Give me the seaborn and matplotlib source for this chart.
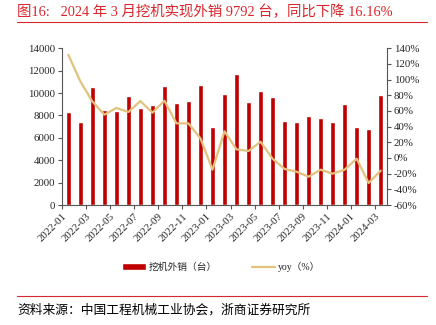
import numpy as np
import pandas as pd
import matplotlib
matplotlib.use("Agg")
import matplotlib.pyplot as plt
import seaborn as sns
from matplotlib.lines import Line2D
from matplotlib.patches import Patch

months = ["2022-01", "2022-02", "2022-03", "2022-04", "2022-05", "2022-06", "2022-07",
          "2022-08", "2022-09", "2022-10", "2022-11", "2022-12", "2023-01", "2023-02",
          "2023-03", "2023-04", "2023-05", "2023-06", "2023-07", "2023-08", "2023-09",
          "2023-10", "2023-11", "2023-12", "2024-01", "2024-02", "2024-03"]
exports = [8280, 7420, 10520, 8490, 8430, 9710, 8670, 8970, 10630, 9150, 9270, 10720,
           6970, 9950, 11680, 9230, 10190, 9650, 7510, 7420, 7980, 7770, 7420, 9050,
           6940, 6760, 9792]
yoy = [131.8, 97.8, 72.2, 55.3, 63.8, 58.7, 72.7, 57.8, 73.1, 44.2, 44.2, 25.0,
       -14.9, 34.0, 11.0, 8.9, 20.8, -0.9, -14.0, -17.5, -23.9, -14.9, -20.0, -14.9,
       -0.9, -31.9, -16.16]
left_ticks = [0, 2000, 4000, 6000, 8000, 10000, 12000, 14000]
right_ticks = [-60, -40, -20, 0, 20, 40, 60, 80, 100, 120, 140]

bar_label = "挖机外销（台）"
line_label = "yoy（%）"
title = "图16:   2024 年 3 月挖机实现外销 9792 台，同比下降 16.16%"
source = "资料来源：中国工程机械工业协会，浙商证券研究所"

sns.set_style("white")
plt.rcParams['font.family'] = ['Liberation Serif', 'Noto Sans CJK SC']
plt.rcParams['axes.unicode_minus'] = False

bar_color = "#C00000"
line_color = "#E2C27D"
red = "#D9262C"

df = pd.DataFrame({"month": months, "exports": exports, "yoy": yoy})
df["idx"] = np.arange(len(df))

fig = plt.figure(figsize=(4.36, 3.25), dpi=100)
ax = fig.add_axes([0.1429, 0.3692, 0.744, 0.4822])
sns.barplot(data=df, x="month", y="exports", color=bar_color, saturation=1,
            width=0.44, ax=ax, order=months)
ax.set_ylim(0, 14000)
ax.set_yticks(left_ticks)
ax.set_yticklabels([str(t) for t in left_ticks], fontsize=7.8)
ax.set_xlim(-0.5, len(months) - 0.5)
pos = np.arange(0, len(months), 2)
ax.set_xticks(pos - 0.5)
ax.set_xticklabels([months[i] for i in pos], rotation=45, ha="right",
                   rotation_mode="anchor", fontsize=7.8)
ax.set_xlabel("")
ax.set_ylabel("")

ax2 = ax.twinx()
sns.lineplot(data=df, x="idx", y="yoy", color=line_color, linewidth=1.6, ax=ax2)
ax2.set_ylim(-60, 140)
ax2.set_yticks(right_ticks)
ax2.set_yticklabels([f"{t}%" for t in right_ticks], fontsize=7.8)
ax2.set_xlim(-0.5, len(months) - 0.5)
ax2.set_ylabel("")
ax2.set_xlabel("")

for a in (ax, ax2):
    for s in a.spines.values():
        s.set_visible(False)
    a.tick_params(length=3, width=0.8, color="#555555", pad=2)
ax.spines["left"].set_visible(True)
ax.spines["bottom"].set_visible(True)
ax2.spines["right"].set_visible(True)
for s in (ax.spines["left"], ax.spines["bottom"], ax2.spines["right"]):
    s.set_color("#555555")
    s.set_linewidth(0.8)
ax.tick_params(axis="x", bottom=True, length=3)
ax.tick_params(axis="y", left=True)
ax2.tick_params(axis="y", right=True)

handles = [Patch(facecolor=bar_color, label=bar_label),
           Line2D([0], [0], color=line_color, lw=1.6, label=line_label)]
fig.legend(handles=handles, loc="center", bbox_to_anchor=(0.508, 1 - 267 / 325), ncol=2,
           frameon=False, fontsize=7, handlelength=2.4, handleheight=0.7,
           columnspacing=3.6, handletextpad=0.3)

fig.text(17 / 436, 1 - 12 / 325, title, color=red, fontsize=10.4, va="center", ha="left")
fig.add_artist(Line2D([17 / 436, 427 / 436], [1 - 22.3 / 325] * 2, color=red, lw=0.8))
fig.add_artist(Line2D([17 / 436, 427 / 436], [1 - 296 / 325] * 2, color=red, lw=0.8))
fig.text(17 / 436, 1 - 310 / 325, source, color="black", fontsize=9.2, va="center", ha="left")

fig.savefig("out.png", dpi=100)
